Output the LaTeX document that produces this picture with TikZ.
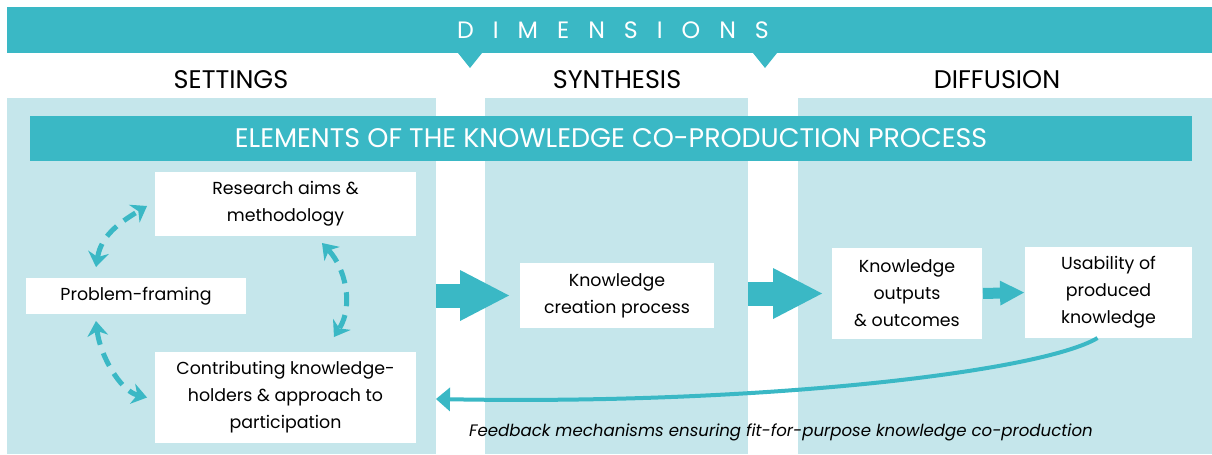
\documentclass[tikz,border=0pt]{standalone}
\usepackage{fontspec}
\setmainfont{Poppins}
\newfontfamily\spacedfont[LetterSpace=80]{Poppins}
\usepackage{xcolor}
\usepackage{tikz}
\usetikzlibrary{arrows.meta,positioning}

\definecolor{dimteal}{RGB}{58,184,197}
\definecolor{panelblue}{RGB}{197,230,235}
\newlength\pxu
\setlength\pxu{0.02cm}

\begin{document}
\begin{tikzpicture}[
    x=\pxu, y=-\pxu,
    panel/.style={fill=panelblue, inner sep=0pt, outer sep=0pt, anchor=north west},
    whitebox/.style={fill=white, align=center, inner sep=0pt, outer sep=0pt, font=\fontsize{9.9}{15.4}\selectfont},
    colhead/.style={font=\fontsize{14.5}{16}\selectfont},
    bigarrow/.style={draw=dimteal, line width=0.48cm, -{Triangle[length=0.98cm, width=1.02cm, line width=0pt]}},
    dasharrow/.style={draw=dimteal, line width=0.1cm, dash pattern=on 0.28cm off 0.18cm,
        {Stealth[length=0.3cm, width=0.42cm, line width=0pt]}-{Stealth[length=0.3cm, width=0.42cm, line width=0pt]}}
]
\useasboundingbox (0,0) rectangle (1212,454);

% Dimensions banner
\fill[dimteal] (7,7) rectangle (1212,53);
\fill[dimteal] (458,53) -- (482,53) -- (470,68) -- cycle;
\fill[dimteal] (753,53) -- (777,53) -- (765,68) -- cycle;
\node[text=white, font=\spacedfont\fontsize{13.5}{15}\selectfont] (dims) at (613,30) {DIMENSIONS};

% Column headings
\node[colhead] (hsettings) at (231,80) {SETTINGS};
\node[colhead] (hsynthesis) at (617,80) {SYNTHESIS};
\node[colhead] (hdiffusion) at (997,80) {DIFFUSION};

% Column panels
\node[panel, minimum width=8.58cm, minimum height=7.12cm] (settings) at (7,98) {};
\node[panel, minimum width=5.26cm, minimum height=7.12cm] (synthesis) at (485,98) {};
\node[panel, minimum width=8.28cm, minimum height=7.12cm] (diffusion) at (798,98) {};

% Elements bar
\node[fill=dimteal, text=white, minimum width=23.24cm, minimum height=0.9cm, inner sep=0pt,
      font=\fontsize{15.3}{17}\selectfont] (elements) at (611,138.5) {ELEMENTS OF THE KNOWLEDGE CO-PRODUCTION PROCESS};

% Settings boxes
\node[whitebox, minimum width=5.22cm, minimum height=1.28cm] (research) at (285.5,204) {Research aims \&\\methodology};
\node[whitebox, minimum width=4.4cm, minimum height=0.72cm] (framing) at (136,296) {Problem-framing};
\node[whitebox, minimum width=5.22cm, minimum height=1.82cm] (contrib) at (285.5,397.5) {Contributing knowledge-\\holders \& approach to\\participation};

% Synthesis and diffusion boxes
\node[whitebox, minimum width=3.88cm, minimum height=1.3cm] (creation) at (617,295.5) {Knowledge\\creation process};
\node[whitebox, minimum width=3cm, minimum height=1.82cm] (outputs) at (907,293.5) {Knowledge\\outputs\\\& outcomes};
\node[whitebox, minimum width=3.34cm, minimum height=1.82cm] (usability) at (1108.5,292.5) {Usability of\\produced\\knowledge};

% Flow arrows
\draw[bigarrow, shorten >=0.22cm] (settings.east |- creation.west) -- (creation.west);
\draw[bigarrow, shorten >=0.2cm] (synthesis.east |- outputs.west) -- (outputs.west);
\draw[draw=dimteal, line width=0.22cm, -{Triangle[length=0.48cm, width=0.5cm, line width=0pt]}, shorten <=0.02cm, shorten >=0.02cm]
    (outputs.east) -- (usability.west);

% Feedback loop
\coordinate (fbend) at (436,399);
\draw[draw=dimteal, line width=0.08cm, -{Triangle[length=0.28cm, width=0.48cm, line width=0pt]}]
    ([xshift=-0.22cm]usability.south) .. controls +(-57,34) and +(324,6) .. (fbend);
\node[font=\itshape\fontsize{9.45}{11}\selectfont] (fbtext) at (781,432) {Feedback mechanisms ensuring fit-for-purpose knowledge co-production};

% Dashed links between settings boxes
\draw[dasharrow] ([xshift=-0.8cm, yshift=0.22cm]framing.north) .. controls +(5,-30) and +(-30,18) .. ([xshift=-0.16cm, yshift=-0.04cm]research.west);
\draw[dasharrow] ([xshift=0.73cm, yshift=-0.14cm]research.south) .. controls +(23,25) and +(20,-32) .. ([xshift=0.97cm, yshift=0.3cm]contrib.north);
\draw[dasharrow] ([xshift=-0.8cm, yshift=-0.14cm]framing.south) .. controls +(4,34) and +(-27,-7) .. ([xshift=-0.16cm]contrib.west);

\end{tikzpicture}
\end{document}
